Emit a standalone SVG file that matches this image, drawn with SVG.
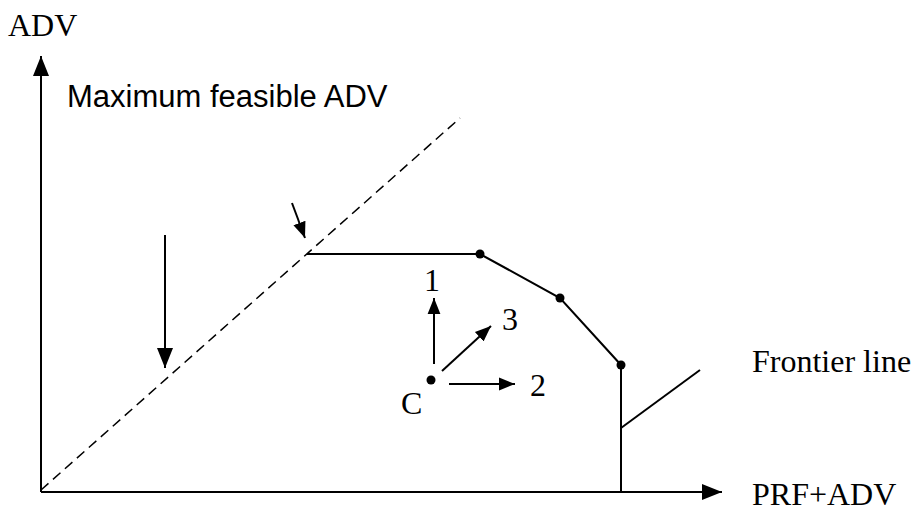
<svg xmlns="http://www.w3.org/2000/svg" width="922" height="517" viewBox="0 0 922 517">
<style>
.ln{stroke:#000;stroke-width:2;fill:none}
.ds{stroke:#000;stroke-width:1.5;fill:none;stroke-dasharray:10 6}
.t{font-family:"Liberation Serif","Times New Roman",serif;font-size:32px;fill:#000}
.a{font-family:"Liberation Sans",Arial,sans-serif;font-size:31px;fill:#000}
</style>
<defs>
<marker id="big" viewBox="0 0 10 10" refX="10" refY="5" markerWidth="20" markerHeight="20" markerUnits="userSpaceOnUse" orient="auto">
<path d="M0,1 L10,5 L0,9 z" fill="#000"/>
</marker>
<marker id="sm" viewBox="0 0 10 10" refX="10" refY="5" markerWidth="16" markerHeight="16" markerUnits="userSpaceOnUse" orient="auto">
<path d="M0,1 L10,5 L0,9 z" fill="#000"/>
</marker>
</defs>
<g id="connectors">
<line class="ln" x1="41" y1="492" x2="41" y2="56" marker-end="url(#big)"/>
<line class="ln" x1="41" y1="492" x2="722" y2="492" marker-end="url(#big)"/>
<line class="ds" x1="41" y1="490" x2="460" y2="118"/>
<polyline class="ln" points="307,254 480,254 560,298 621,365 621,492"/>
<line class="ln" x1="621" y1="428" x2="700" y2="370"/>
<line class="ln" x1="165" y1="235" x2="165" y2="368" marker-end="url(#big)"/>
<line class="ln" x1="292" y1="203" x2="305" y2="238" marker-end="url(#sm)"/>
<line class="ln" x1="434" y1="364" x2="434" y2="298" marker-end="url(#sm)"/>
<line class="ln" x1="442" y1="371" x2="491" y2="326" marker-end="url(#sm)"/>
<line class="ln" x1="449" y1="384" x2="515" y2="384" marker-end="url(#sm)"/>
</g>
<g id="points">
<circle cx="480" cy="254" r="4.5"/>
<circle cx="560" cy="298" r="4.5"/>
<circle cx="621" cy="365" r="4.5"/>
<circle cx="431" cy="380" r="4.5"/>
</g>
<g id="labels">
<text class="t" x="8" y="36">ADV</text>
<text class="a" x="67" y="107">Maximum feasible ADV</text>
<text class="t" x="424" y="291">1</text>
<text class="t" x="502" y="330">3</text>
<text class="t" x="530" y="396">2</text>
<text class="t" x="401" y="414">C</text>
<text class="t" x="752" y="372">Frontier line</text>
<text class="t" x="752" y="505">PRF+ADV</text>
</g>
</svg>
